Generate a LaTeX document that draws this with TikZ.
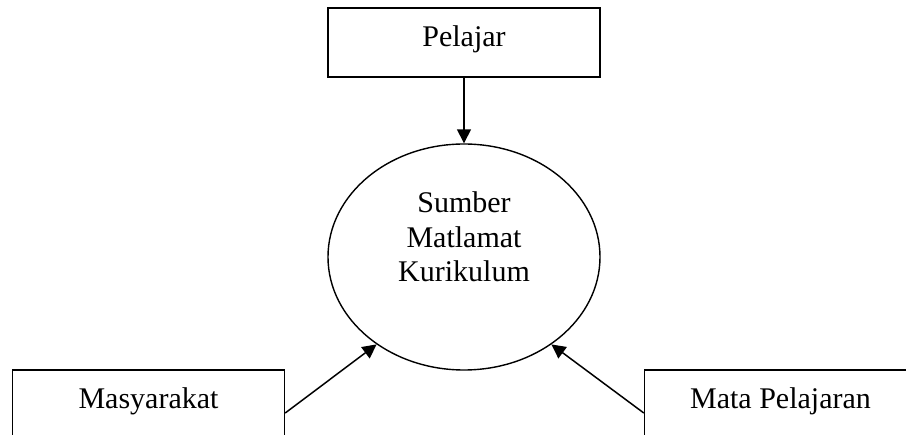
\documentclass[tikz,border=0pt]{standalone}
\usepackage{fontspec}
\setmainfont{Liberation Serif}
\usetikzlibrary{shapes.geometric,arrows.meta}
\begin{document}
\begin{tikzpicture}[x=1pt,y=-1pt,
  font=\fontsize{30}{34.5}\selectfont,
  box/.style={draw, line width=1.4pt, minimum width=272pt, minimum height=69pt,
    inner sep=0pt, text height=20.5pt, text depth=11.5pt},
  conn/.style={line width=1.5pt, -{Triangle[length=14pt,width=14pt]}}]
\useasboundingbox (0,0) rectangle (906,435);
\clip (0,0) rectangle (906,435);
\node[box] (pel) at (464,42.5) {Pelajar};
\node[draw, ellipse, line width=1.4pt, minimum width=272pt, minimum height=226pt, inner sep=0pt] (ell) at (464,257) {};
\node[align=center] (txt) at (464,237) {Sumber\\Matlamat\\Kurikulum};
\node[box] (mas) at (148.5,404.5) {Masyarakat};
\node[box] (mp) at (780.5,404.5) {Mata Pelajaran};
\draw[conn] (pel) -- (ell);
\draw[conn] ([yshift=-8.5pt]mas.east) -- (ell.225);
\draw[conn] ([yshift=-8.5pt]mp.west) -- (ell.315);
\end{tikzpicture}
\end{document}
